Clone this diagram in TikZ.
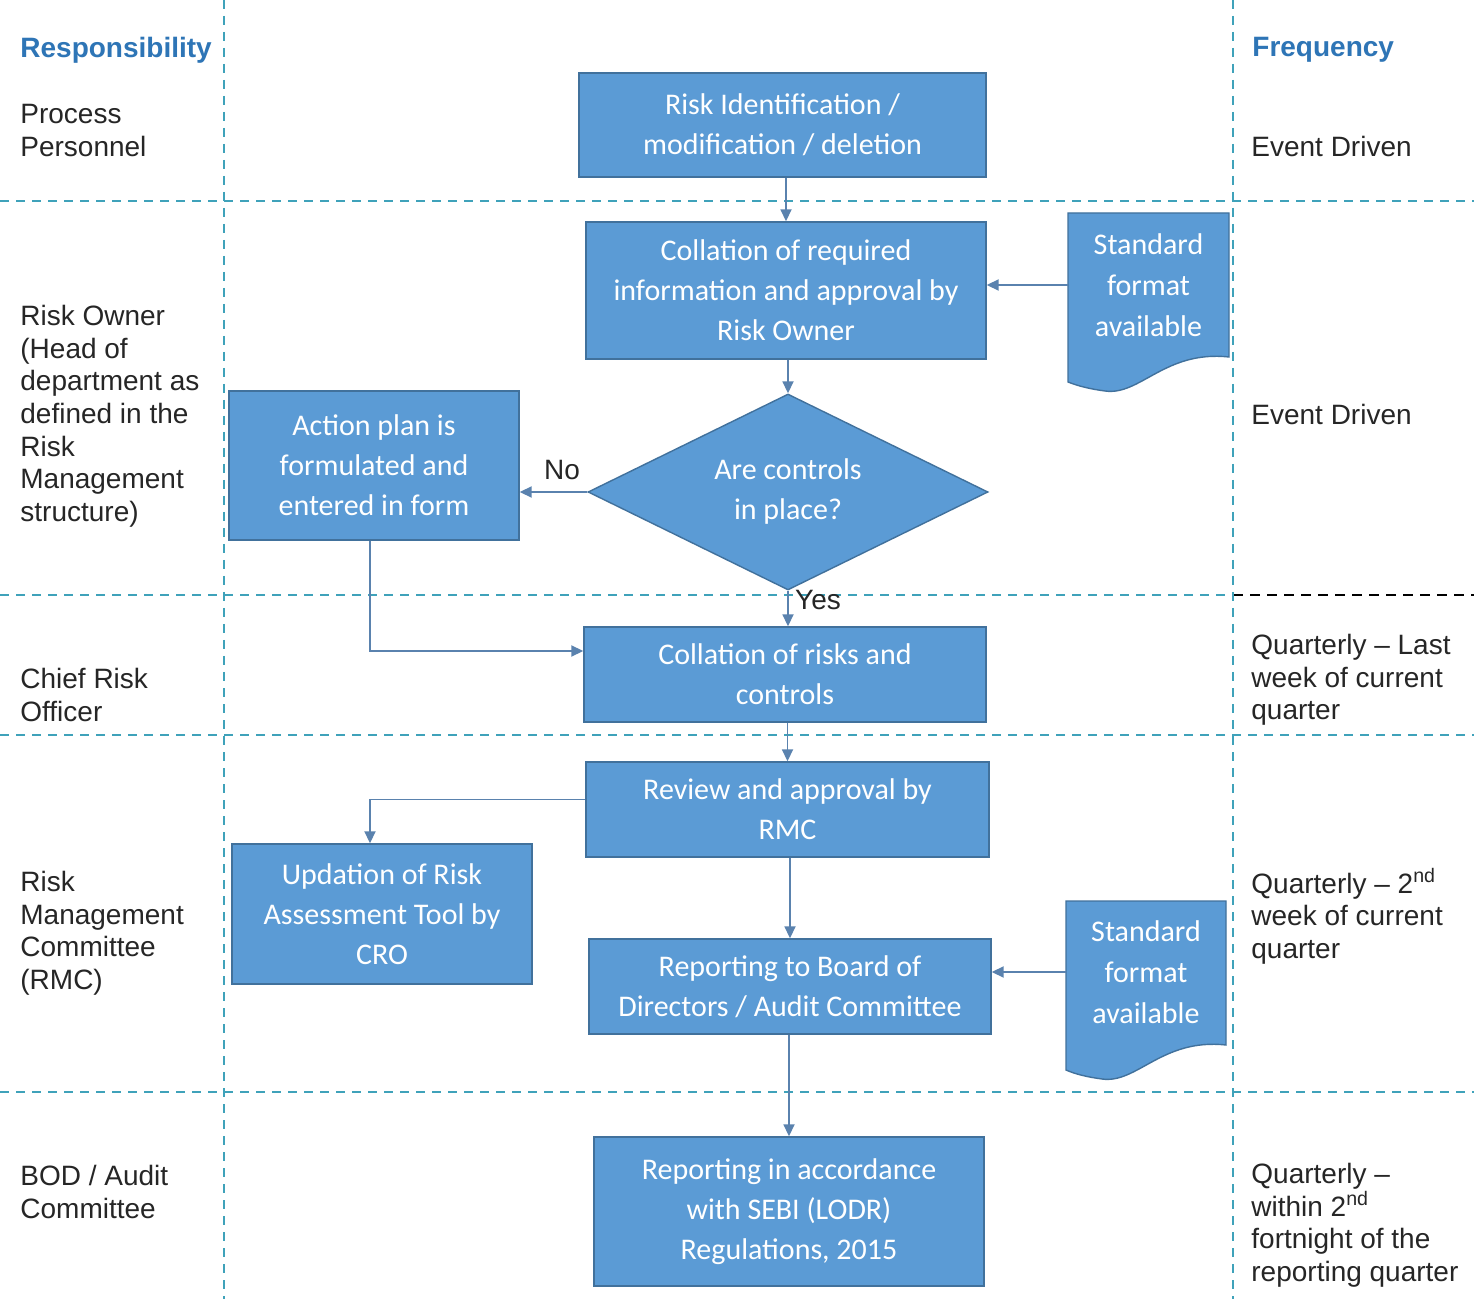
\documentclass[tikz,border=0pt]{standalone}
\usepackage{fontspec}
\setmainfont{Liberation Sans}
\newfontfamily\boxfont{Carlito}
\usetikzlibrary{shapes.geometric,arrows.meta}
\definecolor{boxblue}{HTML}{5B9BD5}
\definecolor{boxedge}{HTML}{41719C}
\definecolor{lanecol}{HTML}{3FA2BA}
\definecolor{arrowcol}{HTML}{5A82AE}
\definecolor{headblue}{HTML}{2E75B6}
\begin{document}
\begin{tikzpicture}[x=0.5pt,y=-0.5pt,
  proc/.style={draw=boxedge, fill=boxblue, line width=0.7pt, text=white,
    font=\boxfont\fontsize{15}{20}\selectfont, align=center, inner sep=0pt},
  docbox/.style={draw=boxedge, fill=boxblue, line width=0.7pt},
  doctext/.style={text=white, font=\boxfont\fontsize{15}{20.5}\selectfont, align=center, inner sep=0pt},
  lbl/.style={anchor=north west, align=left, inner sep=0pt, font=\fontsize{14}{16.3}\selectfont, text=black!85},
  head/.style={anchor=north west, inner sep=0pt, font=\bfseries\fontsize{14}{16}\selectfont, text=headblue},
  lane/.style={draw=lanecol, line width=1pt, dash pattern=on 4.5pt off 3.5pt},
  conn/.style={draw=arrowcol, line width=0.9pt, -{Triangle[length=6pt,width=5.5pt]}},
  tag/.style={inner sep=0pt, font=\fontsize{14}{16}\selectfont, text=black!85}
]
\useasboundingbox (0,0) rectangle (1474,1299);
\fill[white] (0,0) rectangle (1474,1299);

% lanes
\draw[lane] (0,201) -- (1474,201);
\draw[lane] (0,595) -- (1233,595);
\draw[black, line width=1.1pt, dash pattern=on 5pt off 3.5pt] (1233,595) -- (1474,595);
\draw[lane] (0,735) -- (1474,735);
\draw[lane] (0,1092) -- (1474,1092);
\draw[lane] (224,0) -- (224,1299);
\draw[lane] (1233,0) -- (1233,1299);

% headers
\node[head] (hresp) at (20,37) {Responsibility};
\node[head] (hfreq) at (1252,37) {Frequency};

% left labels
\node[lbl] (l1) at (20,104) {Process\\Personnel};
\node[lbl] (l2) at (20,305) {Risk Owner\\(Head of\\department as\\defined in the\\Risk\\Management\\structure)};
\node[lbl] (l3) at (20,668) {Chief Risk\\Officer};
\node[lbl] (l4) at (20,871) {Risk\\Management\\Committee\\(RMC)};
\node[lbl] (l5) at (20,1165) {BOD / Audit\\Committee};

% right labels
\node[lbl] (r1) at (1251,136) {Event Driven};
\node[lbl] (r2) at (1251,404) {Event Driven};
\node[lbl] (r3) at (1251,634) {Quarterly -- Last\\week of current\\quarter};
\node[lbl] (r4) at (1251,868) {Quarterly -- 2\textsuperscript{nd}\\week of current\\quarter};
\node[lbl] (r5) at (1251,1163) {Quarterly --\\within 2\textsuperscript{nd}\\fortnight of the\\reporting quarter};

% process boxes
\node[proc, minimum width=203.5pt, minimum height=52pt] (b1) at (782.5,125) {Risk Identification /\\modification / deletion};
\node[proc, minimum width=200pt, minimum height=68.5pt] (b2) at (786,290.5) {Collation of required\\information and approval by\\Risk Owner};
\node[proc, diamond, aspect=2, minimum width=200pt, minimum height=98pt] (dia) at (788,492) {Are controls\\in place?};
\node[proc, minimum width=145pt, minimum height=74.5pt] (ap) at (374,465.5) {Action plan is\\formulated and\\entered in form};
\node[proc, minimum width=201pt, minimum height=47.5pt] (b3) at (785,674.5) {Collation of risks and\\controls};
\node[proc, minimum width=201.5pt, minimum height=47.5pt] (b4) at (787.5,809.5) {Review and approval by\\RMC};
\node[proc, minimum width=150pt, minimum height=70pt] (up) at (382,914) {Updation of Risk\\Assessment Tool by\\CRO};
\node[proc, minimum width=201pt, minimum height=47.5pt] (b5) at (790,986.5) {Reporting to Board of\\Directors / Audit Committee};
\node[proc, minimum width=195pt, minimum height=74.5pt] (b6) at (789,1211.5) {Reporting in accordance\\with SEBI (LODR)\\Regulations, 2015};

% document shapes
\path[docbox] (1068,213) -- (1229,213) -- (1229,357)
  .. controls (1165,350) and (1140,396) .. (1105,391)
  .. controls (1090,389) and (1078,386) .. (1068,382) -- cycle;
\node[doctext, minimum width=80.5pt, minimum height=72pt] (d1) at (1148.5,285) {Standard\\format\\available};
\path[docbox] (1066,901) -- (1226,901) -- (1226,1045)
  .. controls (1162,1038) and (1137,1084) .. (1102,1079)
  .. controls (1087,1077) and (1075,1074) .. (1066,1070) -- cycle;
\node[doctext, minimum width=80pt, minimum height=72pt] (d2) at (1146,972) {Standard\\format\\available};

% connectors
\draw[conn] (b2.north |- b1.south) -- (b2.north);
\draw[conn] (d1.west) -- (d1.west -| b2.east);
\draw[conn] (dia.north |- b2.south) -- (dia.north);
\draw[conn] (dia.west) -- (dia.west -| ap.east);
\node[tag] (no) at (562,470) {No};
\draw[conn] (dia.south) -- (dia.south |- b3.north);
\node[tag] (yes) at (818,600) {Yes};
\draw[conn] ([xshift=-2pt]ap.south) |- ([yshift=11.75pt]b3.west);
\draw[conn] (b4.north |- b3.south) -- (b4.north);
\draw[conn] ([yshift=5pt]b4.west) -| ([xshift=-6pt]up.north);
\draw[conn] (b5.north |- b4.south) -- (b5.north);
\draw[conn] (d2.west) -- (d2.west -| b5.east);
\draw[conn] (b6.north |- b5.south) -- (b6.north);
\end{tikzpicture}
\end{document}
